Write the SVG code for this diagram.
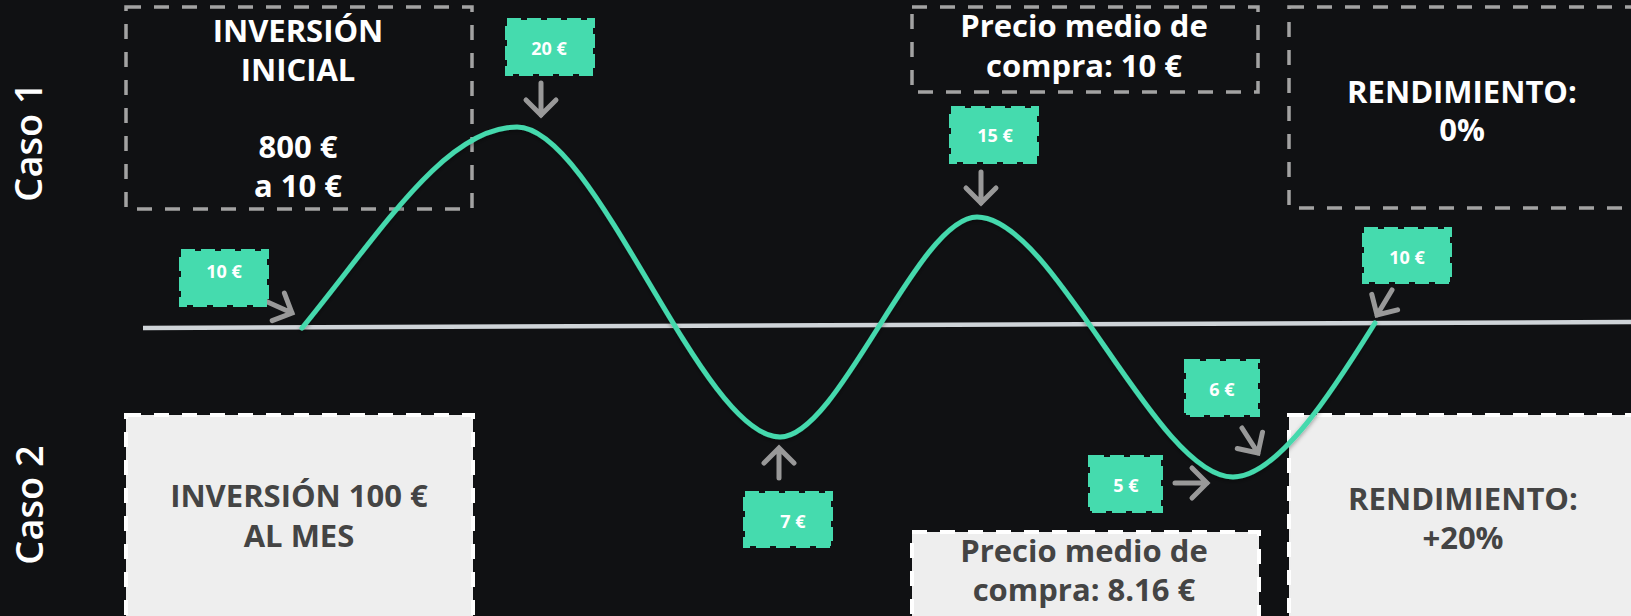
<svg xmlns="http://www.w3.org/2000/svg" width="1631" height="616" viewBox="0 0 1631 616">
<defs>
<style>
.bg{fill:#101113}
.dbox{fill:none;stroke:#a3a3a3;stroke-width:3.5;stroke-dasharray:15 13}
.lbox{fill:#eeeeee;stroke:#ffffff;stroke-width:4;stroke-dasharray:15 13}
.tw{font-family:"Open Sans","Noto Sans","Liberation Sans",sans-serif;font-weight:700;font-size:31px;fill:#ffffff;text-anchor:middle}
.td{font-family:"Open Sans","Noto Sans","Liberation Sans",sans-serif;font-weight:700;font-size:31px;fill:#444444;text-anchor:middle}
.tag{fill:#45dbae;stroke:#45dbae;stroke-width:4;stroke-dasharray:14 6}
.tt{font-family:"Open Sans","Noto Sans","Liberation Sans",sans-serif;font-weight:700;font-size:18px;fill:#ffffff;text-anchor:middle}
.caso{font-family:"Open Sans","Noto Sans","Liberation Sans",sans-serif;font-weight:600;font-size:38px;fill:#ffffff;text-anchor:middle}
.arr{fill:none;stroke:#999999;stroke-width:5;stroke-linecap:round;stroke-linejoin:miter}
.base{fill:none;stroke:#cfd4d8;stroke-width:4.5}
.curve{fill:none;stroke:#45d9ad;stroke-width:5;stroke-linecap:round}
</style>
<filter id="sh" x="-5%" y="-10%" width="110%" height="120%">
<feDropShadow dx="0" dy="2" stdDeviation="2" flood-color="#000000" flood-opacity="0.35"/>
</filter>
</defs>
<rect class="bg" x="0" y="0" width="1631" height="616"/>

<g id="caso1"><text class="caso" transform="translate(42,142) rotate(-90)">Caso 1</text></g>
<g id="caso2"><text class="caso" transform="translate(43,505) rotate(-90)">Caso 2</text></g>

<g id="inversion-inicial">
<rect class="dbox" x="126" y="7" width="346" height="202"/>
<text class="tw"><tspan x="298" y="42">INVERSIÓN</tspan><tspan x="298" y="81">INICIAL</tspan><tspan x="298" y="158">800 €</tspan><tspan x="298" y="197">a 10 €</tspan></text>
</g>
<g id="precio-medio-1">
<rect class="dbox" x="912" y="7" width="346" height="85"/>
<text class="tw"><tspan x="1084" y="37">Precio medio de</tspan><tspan x="1084" y="77">compra: 10 €</tspan></text>
</g>
<g id="rendimiento-1">
<rect class="dbox" x="1289" y="7" width="346" height="201"/>
<text class="tw"><tspan x="1462" y="103">RENDIMIENTO:</tspan><tspan x="1462" y="141">0%</tspan></text>
</g>
<g id="inversion-mes">
<rect class="lbox" x="126" y="415" width="347" height="215"/>
<text class="td"><tspan x="299" y="507">INVERSIÓN 100 €</tspan><tspan x="299" y="547">AL MES</tspan></text>
</g>
<g id="precio-medio-2">
<rect class="lbox" x="912" y="532" width="347" height="100"/>
<text class="td"><tspan x="1084" y="562">Precio medio de</tspan><tspan x="1084" y="601">compra: 8.16 €</tspan></text>
</g>
<g id="rendimiento-2">
<rect class="lbox" x="1289" y="415" width="346" height="215"/>
<text class="td"><tspan x="1463" y="510">RENDIMIENTO:</tspan><tspan x="1463" y="549">+20%</tspan></text>
</g>

<g id="connectors">
<path class="base" d="M143,328 L1631,322"/>
<path class="curve" filter="url(#sh)" d="M302,328 C380,233 445,127 517,127 C596,127 701,437 780,437 C839,437 918,217 977,217 C1054,217 1156,477 1233,477 C1280,477 1340,379 1375,323"/>
<path class="arr" d="M263,300 L292,313 M272.2,320.6 L292,313 L284.4,293.2"/>
<path class="arr" d="M541,83 L541,115 M526,100 L541,115 L556,100"/>
<path class="arr" d="M981,172 L981,203 M966,188 L981,203 L996,188"/>
<path class="arr" d="M779,478 L779,448 M764,463 L779,448 L794,463"/>
<path class="arr" d="M1175,483 L1207,483 M1192,468 L1207,483 L1192,498"/>
<path class="arr" d="M1242,428 L1258,453 M1237.3,448.5 L1258,453 L1262.5,432.3"/>
<path class="arr" d="M1392,290 L1377,315 M1371.8,294.4 L1377,315 L1397.6,309.8"/>
</g>

<g id="tag-10a"><rect class="tag" x="181" y="251" width="86" height="54"/><text class="tt" x="224" y="278">10 €</text></g>
<g id="tag-20"><rect class="tag" x="507" y="20" width="86" height="54"/><text class="tt" x="549" y="55">20 €</text></g>
<g id="tag-15"><rect class="tag" x="951" y="108" width="86" height="54"/><text class="tt" x="995" y="142">15 €</text></g>
<g id="tag-10b"><rect class="tag" x="1364" y="229" width="86" height="53"/><text class="tt" x="1407" y="264">10 €</text></g>
<g id="tag-7"><rect class="tag" x="745" y="493" width="86" height="53"/><text class="tt" x="793" y="528">7 €</text></g>
<g id="tag-5"><rect class="tag" x="1090" y="457" width="71" height="54"/><text class="tt" x="1126" y="492">5 €</text></g>
<g id="tag-6"><rect class="tag" x="1186" y="361" width="72" height="54"/><text class="tt" x="1222" y="396">6 €</text></g>
</svg>
